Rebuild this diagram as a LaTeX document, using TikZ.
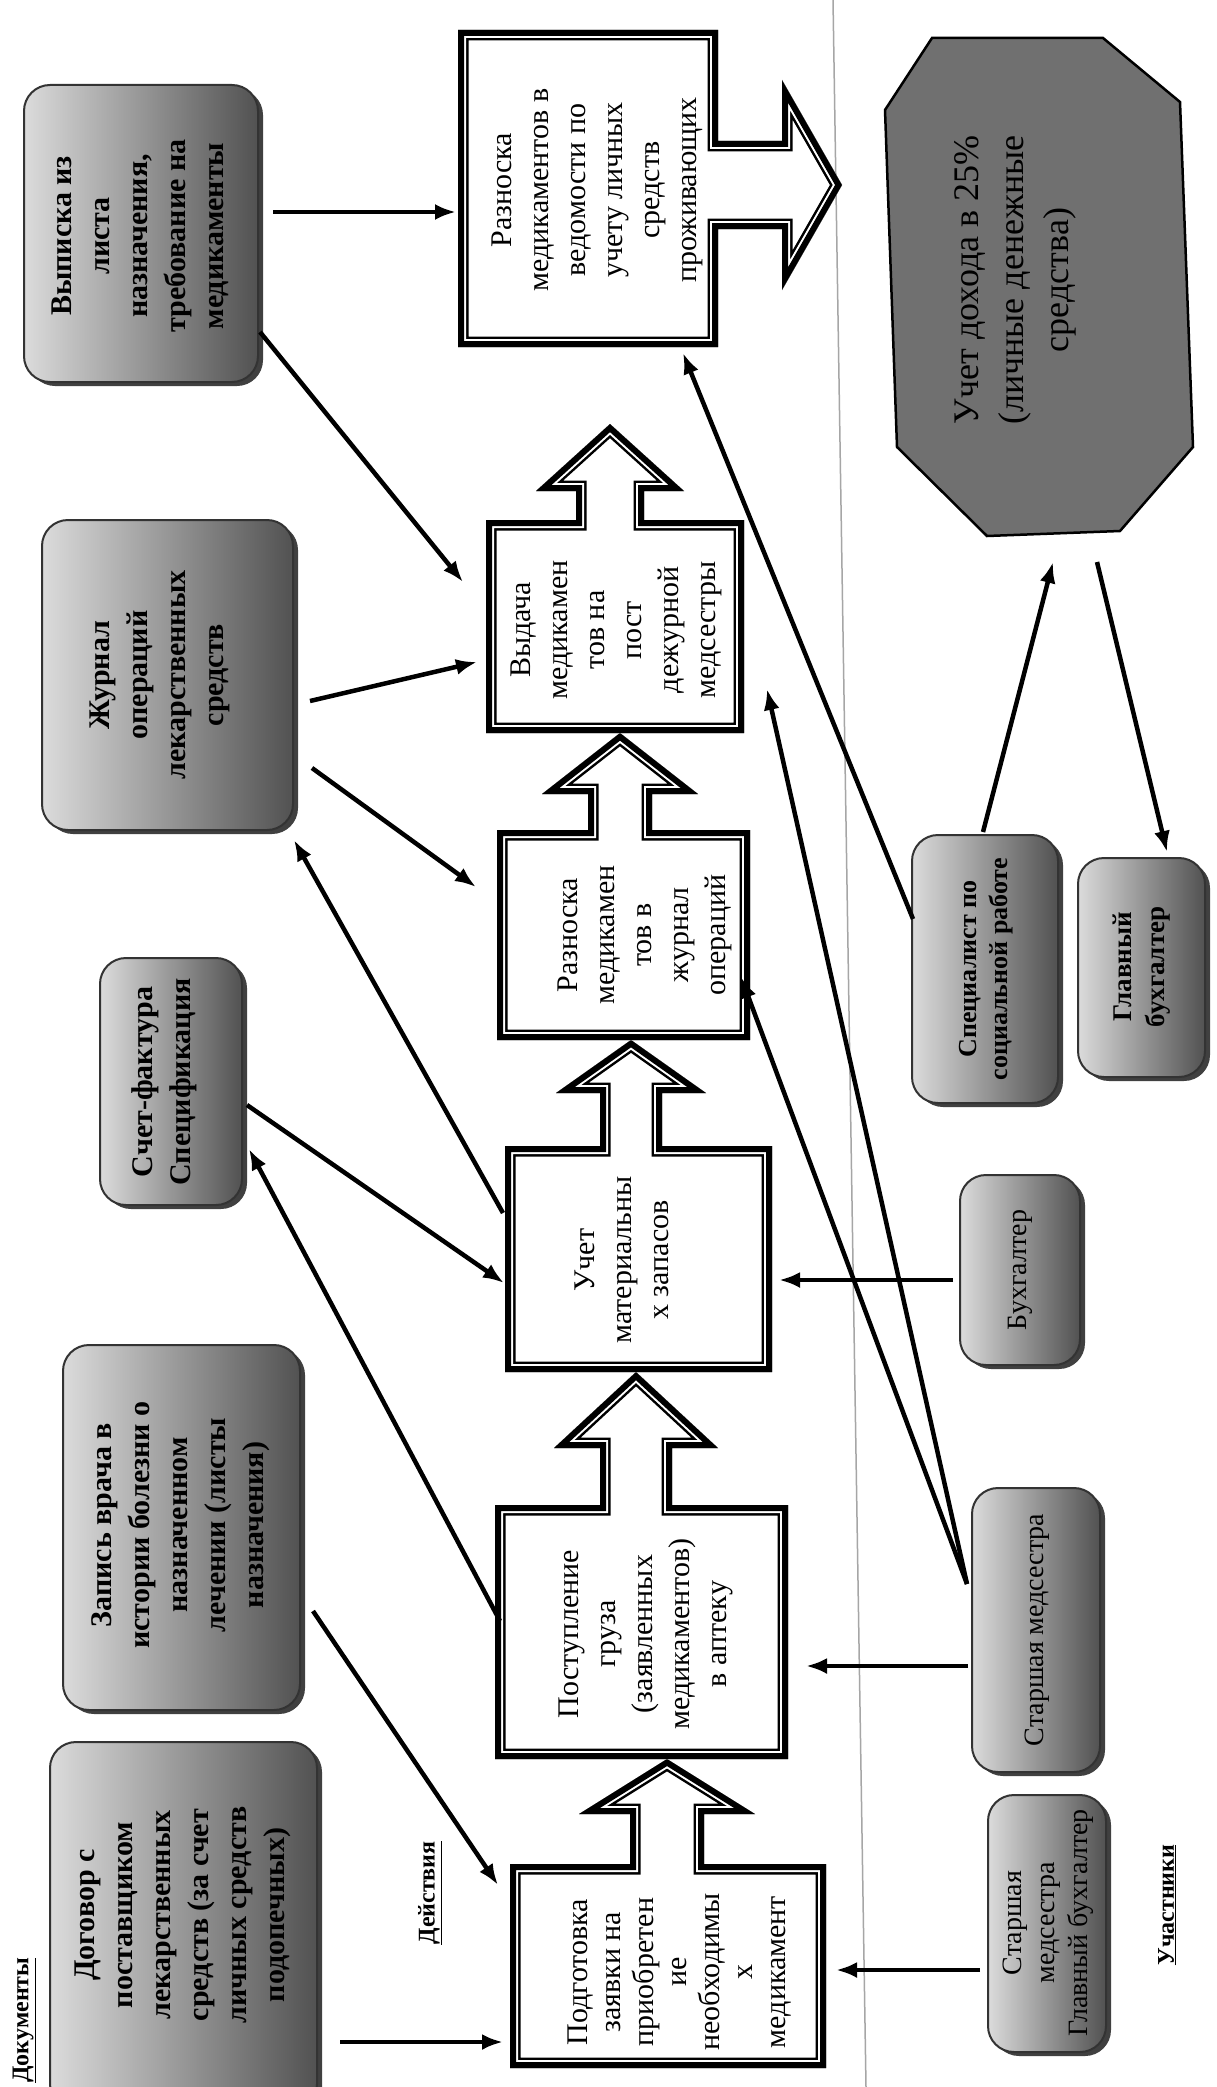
\documentclass[tikz,border=0pt]{standalone}
\usepackage{fontspec}
\setmainfont{Liberation Serif}
\usetikzlibrary{arrows.meta,shadows}
\tikzset{
  docbox/.style={draw=black!80, line width=2pt, rounded corners=26pt, left color=black!14, right color=black!68,
    drop shadow={shadow xshift=5pt, shadow yshift=-4pt, fill=black!75, opacity=1}, inner sep=0pt},
  rtext/.style={rotate=90, align=center, inner sep=0pt, text=black},
  doctext/.style={rtext, font=\bfseries\fontsize{30}{38}\selectfont},
  acttext/.style={rtext, font=\fontsize{30}{37}\selectfont},
  ptext/.style={rtext, font=\fontsize{28}{33}\selectfont},
  pbtext/.style={rtext, font=\bfseries\fontsize{26}{31}\selectfont},
  lbl/.style={rtext, font=\bfseries\fontsize{24}{28}\selectfont},
  arr/.style={line width=4.5pt, -{Latex[length=21pt,width=16pt]}},
  bandA/.style={line width=21pt, line join=miter},
  bandB/.style={white, line width=16pt, line join=miter},
  bandC/.style={line width=12pt, line join=miter},
}
% box with an up arrow: L T R B cx shafthalf headhalf headbase tip
\newcommand\upbox[9]{%
  \fill[white] (#1,#4) -- (#1,#2) -- ({#5-#6},#2) -- ({#5-#6},#8) -- ({#5-#7},#8) -- (#5,#9) -- ({#5+#7},#8) -- ({#5+#6},#8) -- ({#5+#6},#2) -- (#3,#2) -- (#3,#4) -- cycle;
  \begin{scope}
    \clip (#1,#4) -- (#1,#2) -- ({#5-#6},#2) -- ({#5-#6},#8) -- ({#5-#7},#8) -- (#5,#9) -- ({#5+#7},#8) -- ({#5+#6},#8) -- ({#5+#6},#2) -- (#3,#2) -- (#3,#4) -- cycle;
    \draw[bandA] (#1,#4) -- (#1,#2) -- ({#5-#6},#2) -- ({#5-#6},#8) -- ({#5-#7},#8) -- (#5,#9) -- ({#5+#7},#8) -- ({#5+#6},#8) -- ({#5+#6},#2) -- (#3,#2) -- (#3,#4) -- cycle;
    \draw[bandB] (#1,#4) -- (#1,#2) -- ({#5-#6},#2) -- ({#5-#6},#8) -- ({#5-#7},#8) -- (#5,#9) -- ({#5+#7},#8) -- ({#5+#6},#8) -- ({#5+#6},#2) -- (#3,#2) -- (#3,#4) -- cycle;
    \draw[bandC] (#1,#4) -- (#1,#2) -- ({#5-#6},#2) -- ({#5-#6},#8) -- ({#5-#7},#8) -- (#5,#9) -- ({#5+#7},#8) -- ({#5+#6},#8) -- ({#5+#6},#2) -- (#3,#2) -- (#3,#4) -- cycle;
  \end{scope}}
% box with a right arrow: L T R B cy shafthalf headhalf headbase tip
\newcommand\rightbox[9]{%
  \fill[white] (#1,#2) -- (#3,#2) -- (#3,{#5-#6}) -- (#8,{#5-#6}) -- (#8,{#5-#7}) -- (#9,#5) -- (#8,{#5+#7}) -- (#8,{#5+#6}) -- (#3,{#5+#6}) -- (#3,#4) -- (#1,#4) -- cycle;
  \begin{scope}
    \clip (#1,#2) -- (#3,#2) -- (#3,{#5-#6}) -- (#8,{#5-#6}) -- (#8,{#5-#7}) -- (#9,#5) -- (#8,{#5+#7}) -- (#8,{#5+#6}) -- (#3,{#5+#6}) -- (#3,#4) -- (#1,#4) -- cycle;
    \draw[bandA] (#1,#2) -- (#3,#2) -- (#3,{#5-#6}) -- (#8,{#5-#6}) -- (#8,{#5-#7}) -- (#9,#5) -- (#8,{#5+#7}) -- (#8,{#5+#6}) -- (#3,{#5+#6}) -- (#3,#4) -- (#1,#4) -- cycle;
    \draw[bandB] (#1,#2) -- (#3,#2) -- (#3,{#5-#6}) -- (#8,{#5-#6}) -- (#8,{#5-#7}) -- (#9,#5) -- (#8,{#5+#7}) -- (#8,{#5+#6}) -- (#3,{#5+#6}) -- (#3,#4) -- (#1,#4) -- cycle;
    \draw[bandC] (#1,#2) -- (#3,#2) -- (#3,{#5-#6}) -- (#8,{#5-#6}) -- (#8,{#5-#7}) -- (#9,#5) -- (#8,{#5+#7}) -- (#8,{#5+#6}) -- (#3,{#5+#6}) -- (#3,#4) -- (#1,#4) -- cycle;
  \end{scope}}
% rounded shaded box as a named node: name x1 y1 x2 y2
\newcommand\dbox[5]{%
  \node[docbox, minimum width={#4pt-#2pt}, minimum height={#5pt-#3pt}] (#1) at ({(#2+#4)/2},{(#3+#5)/2}) {};}
\begin{document}
\begin{tikzpicture}[x=1pt,y=-1pt]
\useasboundingbox (0,0) rectangle (1216,2087);
\clip (0,0) rectangle (1216,2087);
\fill[white] (0,0) rectangle (1216,2087);

% faint scan line
\draw[black!35, line width=1.5pt] (833,0) -- (866,2087);

% ---- documents ----
\dbox{d1}{50}{1742}{317}{2110}
\dbox{d2}{63}{1345}{300}{1710}
\dbox{d3}{100}{958}{242}{1205}
\dbox{d4}{42}{520}{293}{830}
\dbox{d5}{24}{85}{258}{382}
\node[doctext] (d1t) at (183,1915) {Договор с\\поставщиком\\лекарственных\\средств (за счет\\личных средств\\подопечных)};
\node[doctext] (d2t) at (181,1525) {Запись врача в\\истории болезни о\\назначенном\\лечении (листы\\назначения)};
\node[doctext] (d3t) at (164,1082) {Счет-фактура\\Спецификация};
\node[doctext] (d4t) at (160,675) {Журнал\\операций\\лекарственных\\средств};
\node[doctext] (d5t) at (140,236) {Выписка из\\листа\\назначения,\\требование на\\медикаменты};

% ---- labels ----
\node[lbl] (ldoc) at (24,2020) {\underline{Документы}};
\node[lbl] (lact) at (430,1893) {\underline{Действия}};
\node[lbl] (lpart) at (1167,1905) {\underline{Участники}};

% ---- actions ----
\upbox{510}{1864}{826}{2068}{667}{37}{88}{1814}{1759}
\upbox{495}{1505}{788}{1759}{636}{36}{82}{1448}{1372}
\upbox{505}{1146}{772}{1372}{631}{31}{75}{1093}{1040}
\upbox{497}{830}{750}{1040}{620}{32}{78}{794}{733}
\upbox{486}{520}{744}{733}{610}{34}{74}{491}{424}
\rightbox{458}{30}{718}{347}{185}{44}{105}{782}{842}
\node[acttext, font=\fontsize{30}{33}\selectfont] (a1) at (680,1972) {Подготовка\\заявки на\\приобретен\\ие\\необходимы\\х\\медикамент};
\node[acttext] (a2) at (646,1634) {Поступление\\груза\\(заявленных\\медикаментов)\\в аптеку};
\node[acttext] (a3) at (622,1260) {Учет\\материальны\\х запасов};
\node[acttext] (a4) at (645,935) {Разноска\\медикамен\\тов в\\журнал\\операций};
\node[acttext] (a5) at (616,630) {Выдача\\медикамен\\тов на\\пост\\дежурной\\медсестры};
\node[acttext] (a6) at (597,190) {Разноска\\медикаментов в\\ведомости по\\учету личных\\средств\\проживающих};

% ---- participants ----
\dbox{p1}{988}{1795}{1106}{2052}
\dbox{p2}{972}{1488}{1100}{1772}
\dbox{p3}{960}{1175}{1080}{1365}
\dbox{p4}{912}{835}{1058}{1103}
\dbox{p5}{1078}{858}{1205}{1077}
\node[ptext] (p1t) at (1048,1923) {Старшая\\медсестра\\Главный бухгалтер};
\node[ptext] (p2t) at (1037,1630) {Старшая медсестра};
\node[ptext] (p3t) at (1020,1270) {Бухгалтер};
\node[pbtext] (p4t) at (986,969) {Специалист по\\социальной работе};
\node[pbtext, font=\bfseries\fontsize{27}{33}\selectfont] (p5t) at (1142,967) {Главный\\бухгалтер};

% ---- octagon ----
\draw[fill=black!56, line width=2.5pt] (885,110) -- (932,38) -- (1103,38) -- (1180,102) -- (1193,447) -- (1120,531) -- (987,536) -- (897,447) -- cycle;
\node[rtext, font=\fontsize{36}{45}\selectfont] (oct) at (1015,280) {Учет дохода в 25\%\\(личные денежные\\средства)};

% ---- connector ends ----
\coordinate (c1s) at (340,2042);  \coordinate (c1e) at (503,2042);
\coordinate (c2s) at (313,1611);  \coordinate (c2e) at (498,1885);
\coordinate (c3s) at (500,1621);  \coordinate (c3e) at (249,1149);
\coordinate (c4s) at (247,1105);  \coordinate (c4e) at (504,1283);
\coordinate (c5s) at (503,1213);  \coordinate (c5e) at (294,840);
\coordinate (c6s) at (312,768);   \coordinate (c6e) at (476,887);
\coordinate (c7s) at (310,701);   \coordinate (c7e) at (477,662);
\coordinate (c8s) at (260,332);   \coordinate (c8e) at (463,582);
\coordinate (c9s) at (273,212);   \coordinate (c9e) at (456,212);
\coordinate (c10s) at (980,1970); \coordinate (c10e) at (836,1970);
\coordinate (c11s) at (968,1666); \coordinate (c11e) at (806,1666);
\coordinate (c12s) at (967,1584); \coordinate (c12e) at (741,977);
\coordinate (c13e) at (767,689);
\coordinate (c14s) at (953,1280); \coordinate (c14e) at (779,1280);
\coordinate (c15s) at (983,832);  \coordinate (c15e) at (1053,562);
\coordinate (c16s) at (1097,562); \coordinate (c16e) at (1167,852);
\coordinate (c17s) at (913,919);  \coordinate (c17e) at (683,353);

\draw[arr] (c1s) -- (c1e);
\draw[arr] (c2s) -- (c2e);
\draw[arr] (c3s) -- (c3e);
\draw[arr] (c4s) -- (c4e);
\draw[arr] (c5s) -- (c5e);
\draw[arr] (c6s) -- (c6e);
\draw[arr] (c7s) -- (c7e);
\draw[arr] (c8s) -- (c8e);
\draw[arr] (c9s) -- (c9e);
\draw[arr] (c10s) -- (c10e);
\draw[arr] (c11s) -- (c11e);
\draw[arr] (c12s) -- (c12e);
\draw[arr] (c12s) -- (c13e);
\draw[arr] (c14s) -- (c14e);
\draw[arr] (c15s) -- (c15e);
\draw[arr] (c16s) -- (c16e);
\draw[arr] (c17s) -- (c17e);
\end{tikzpicture}
\end{document}
